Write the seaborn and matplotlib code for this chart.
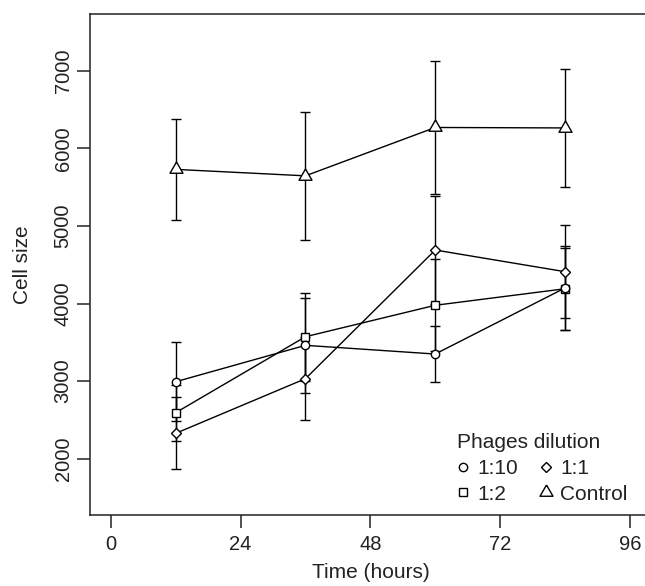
import numpy as np
import pandas as pd
import seaborn as sns
import matplotlib.pyplot as plt
from matplotlib.lines import Line2D

# ==================== DATA ====================
time_h = [12, 36, 60, 84]

dil_1_10 = [2992, 3461, 3349, 4200]
err_1_10 = [512, 614, 361, 545]

dil_1_2 = [2593, 3572, 3977, 4190]
err_1_2 = [360, 567, 590, 525]

dil_1_1 = [2327, 3031, 4689, 4410]
err_1_1 = [462, 532, 696, 598]

control = [5728, 5645, 6268, 6262]
err_control = [652, 827, 860, 765]

x_ticks = [0, 24, 48, 72, 96]
y_ticks = [2000, 3000, 4000, 5000, 6000, 7000]

# R-style triangle (pch = 2), centred on its centroid
tri = [(0, 1.555), (1.347, -0.778), (-1.347, -0.778), (0, 1.555)]

# name, values, errors, marker, marker size, draw order
series = [
    ("1:10", dil_1_10, err_1_10, "o", 6.0, 4),
    ("1:2", dil_1_2, err_1_2, "s", 5.8, 2),
    ("1:1", dil_1_1, err_1_1, "D", 5.6, 3),
    ("Control", control, err_control, tri, 10.8, 2),
]

# ==================== PLOT ====================
sns.set_style("ticks")
plt.rcParams['font.family'] = ['Liberation Sans', 'DejaVu Sans']

fig = plt.figure(figsize=(6.45, 5.86), dpi=100)
W, H = 645, 586
ax = fig.add_axes([90 / W, (H - 515) / H, (651 - 90) / W, (515 - 14) / H])

handles = []
for name, vals, errs, mk, ms, z in series:
    ax.errorbar(time_h, vals, yerr=errs, fmt='none', ecolor='black',
                elinewidth=1.0, capsize=3.5, capthick=1.0, zorder=1)
    sns.lineplot(x=time_h, y=vals, ax=ax, color='black', lw=1.0,
                 marker=mk, markersize=ms, mfc='white', mec='black', mew=1.0,
                 zorder=z)
    handles.append(Line2D([], [], linestyle='none', marker=mk, markersize=ms,
                          mfc='white', mec='black', mew=1.0, color='black'))

ax.set_xlim(-3.84, 99.9)
ax.set_ylim(1275, 7730)
ax.set_xticks(x_ticks)
ax.set_yticks(y_ticks)
ax.set_xticklabels([str(t) for t in x_ticks], fontsize=14.5, color='#222222')
ax.set_yticklabels([str(t) for t in y_ticks], fontsize=14.5, rotation=90,
                   va='center', color='#222222')

for side in ['left', 'bottom', 'top', 'right']:
    ax.spines[side].set_visible(True)
    ax.spines[side].set_color('#222222')
    ax.spines[side].set_linewidth(1.1)

ax.tick_params(axis='both', direction='out', length=9.1, width=1.1, color='#222222')
ax.tick_params(axis='x', pad=5.5)
ax.tick_params(axis='y', pad=3.5)

ax.set_xlabel("Time (hours)", fontsize=15, va='baseline', color='#222222')
ax.xaxis.set_label_coords(0.5, (515 - 578) / 501)
ax.set_ylabel("Cell size", fontsize=15, va='center', color='#222222')
ax.yaxis.set_label_coords((23 - 90) / 561, 0.5)

leg = ax.legend(handles, [s[0] for s in series], ncol=2, title="Phages dilution",
                frameon=False, loc='upper left',
                bbox_to_anchor=(457 / W, 1 - 433 / H), bbox_transform=fig.transFigure,
                borderpad=0, borderaxespad=0, fontsize=15, title_fontsize=15,
                handlelength=0.58, handletextpad=0.38, columnspacing=1.08,
                labelspacing=0.33, alignment='left')
for t in leg.get_texts():
    t.set_color('#222222')
leg.get_title().set_color('#222222')

plt.savefig("out.png", dpi=100)
plt.close(fig)
